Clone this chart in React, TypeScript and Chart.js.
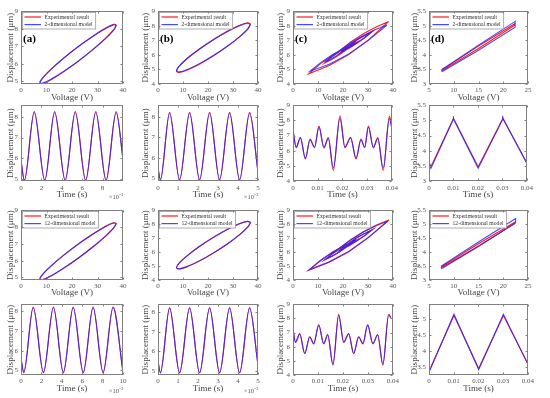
import React, { useEffect, useRef } from "react";
import { Chart, registerables } from "chart.js";
Chart.register(...registerables);

const FONT = "'Liberation Serif', 'Times New Roman', serif";
const RED = "#ff1a1a";
const BLUE = "rgba(40,40,255,0.85)";
const EXP_LABEL = "Experimental result";
const MOD2_LABEL = "2-dimensional model";
const MOD12_LABEL = "12-dimensional model";
const Y_TITLE = "Displacement (\u03bcm)";
const X_VOLT = "Voltage (V)";
const X_TIME = "Time (s)";

// ---------- (a) hysteresis loop ----------
const loopAV = [37.4, 36.26, 33.01, 28.15, 22.4, 16.65, 11.79, 8.54, 7.4, 8.54, 11.79, 16.65, 22.4, 28.15, 33.01, 36.26, 37.4];
const loopAExp = [8.22, 8.255, 8.03, 7.58, 6.98, 6.31, 5.68, 5.19, 4.9, 4.865, 5.09, 5.54, 6.14, 6.81, 7.44, 7.93, 8.22];
const loopAMod2 = [8.19, 8.22, 8.0, 7.56, 6.97, 6.32, 5.7, 5.21, 4.93, 4.9, 5.12, 5.56, 6.15, 6.81, 7.42, 7.91, 8.19];
const loopAMod12 = [8.21, 8.24, 8.02, 7.57, 6.975, 6.31, 5.69, 5.2, 4.91, 4.88, 5.1, 5.55, 6.145, 6.81, 7.43, 7.93, 8.21];

// ---------- (b) hysteresis loop ----------
const loopBV = [37.0, 35.87, 32.67, 27.86, 22.2, 16.54, 11.73, 8.53, 7.4, 8.53, 11.73, 16.54, 22.2, 27.86, 32.67, 35.87, 37.0];
const loopBExp = [8.12, 8.21, 8.04, 7.64, 7.06, 6.4, 5.75, 5.22, 4.88, 4.79, 4.96, 5.36, 5.94, 6.6, 7.25, 7.78, 8.12];
const loopBMod2 = [8.08, 8.17, 8.0, 7.6, 7.04, 6.39, 5.77, 5.25, 4.92, 4.83, 5.0, 5.4, 5.96, 6.61, 7.24, 7.75, 8.08];
const loopBMod12 = [8.11, 8.2, 8.03, 7.63, 7.055, 6.4, 5.75, 5.23, 4.89, 4.8, 4.97, 5.37, 5.945, 6.6, 7.25, 7.78, 8.11];

// ---------- (c) hysteresis loop ----------
const loopCExpV = [38.3, 33.2, 28.15, 23.1, 18.0, 19.83, 21.65, 23.48, 25.3, 22.18, 19.05, 15.93, 12.8, 15.68, 18.55, 21.43, 24.3, 23.08, 21.85, 20.63, 19.4, 22.5, 25.6, 28.7, 31.8, 28.65, 25.5, 22.35, 19.2, 20.73, 22.25, 23.78, 25.3, 20.55, 15.8, 11.05, 6.3, 14.3, 22.3, 30.3, 38.3];
const loopCExpD = [8.3, 7.92, 7.45, 6.88, 6.2, 6.33, 6.48, 6.67, 6.88, 6.6, 6.28, 5.9, 5.45, 5.7, 6.0, 6.36, 6.76, 6.64, 6.51, 6.37, 6.2, 6.46, 6.8, 7.18, 7.62, 7.34, 7.02, 6.64, 6.18, 6.32, 6.49, 6.66, 6.86, 6.47, 5.98, 5.4, 4.7, 5.25, 6.03, 7.05, 8.3];
const loopCMod2V = [37.6, 32.78, 27.95, 23.13, 18.3, 19.98, 21.65, 23.33, 25.0, 21.88, 18.75, 15.63, 12.5, 15.38, 18.25, 21.13, 24.0, 22.9, 21.8, 20.7, 19.6, 22.53, 25.45, 28.38, 31.3, 28.33, 25.35, 22.38, 19.4, 20.8, 22.2, 23.6, 25.0, 20.45, 15.9, 11.35, 6.8, 14.5, 22.2, 29.9, 37.6];
const loopCMod2D = [8.05, 7.72, 7.32, 6.83, 6.25, 6.37, 6.5, 6.66, 6.84, 6.58, 6.27, 5.91, 5.5, 5.74, 6.03, 6.35, 6.72, 6.62, 6.5, 6.38, 6.25, 6.5, 6.81, 7.16, 7.55, 7.3, 7.0, 6.65, 6.24, 6.37, 6.51, 6.66, 6.82, 6.46, 6.02, 5.5, 4.88, 5.36, 6.05, 6.96, 8.05];
const loopCMod12V = [38.0, 33.0, 28.0, 23.05, 18.1, 19.9, 21.7, 23.45, 25.2, 22.1, 19.0, 15.95, 12.9, 15.7, 18.55, 21.4, 24.2, 23.0, 21.8, 20.65, 19.5, 22.5, 25.55, 28.6, 31.6, 28.5, 25.4, 22.35, 19.3, 20.8, 22.25, 23.7, 25.2, 20.5, 15.85, 11.2, 6.6, 14.45, 22.3, 30.15, 38.0];
const loopCMod12D = [8.22, 7.87, 7.42, 6.86, 6.22, 6.35, 6.5, 6.68, 6.86, 6.59, 6.29, 5.92, 5.48, 5.72, 6.02, 6.37, 6.74, 6.63, 6.51, 6.38, 6.22, 6.48, 6.81, 7.17, 7.58, 7.32, 7.01, 6.64, 6.2, 6.33, 6.49, 6.67, 6.84, 6.48, 6.0, 5.43, 4.76, 5.3, 6.05, 7.05, 8.22];

// ---------- (d) hysteresis loop ----------
const loopDExpV = [7.7, 15, 22.3, 22.3, 15, 7.7, 7.7];
const loopDExpD = [3.46, 4.22, 5.02, 5.07, 4.3, 3.5, 3.46];
const loopDMod2V = [7.6, 15, 22.4, 22.4, 15, 7.6, 7.6];
const loopDMod2D = [3.42, 4.16, 4.95, 5.15, 4.33, 3.5, 3.42];
const loopDMod12V = [7.5, 15, 22.5, 22.5, 15, 7.5, 7.5];
const loopDMod12D = [3.4, 4.2, 5.05, 5.2, 4.36, 3.5, 3.4];

// ---------- time responses, row 2 ----------
const tA2 = [0, 0.33, 1.3, 2.33, 3.3, 4.33, 5.32, 6.34, 7.33, 8.34, 9.33, 10];
const dA2Exp = [5.9, 4.93, 8.25, 4.93, 8.25, 4.93, 8.25, 4.93, 8.25, 4.93, 8.25, 5.95];
const dA2Mod = [5.92, 4.97, 8.2, 4.97, 8.2, 4.97, 8.2, 4.97, 8.2, 4.97, 8.2, 5.97];
const tB2 = [0, 0.12, 0.58, 1.08, 1.58, 2.08, 2.58, 3.08, 3.58, 4.08, 4.58, 5];
const dB2Exp = [5.5, 4.9, 8.22, 4.9, 8.22, 4.9, 8.22, 4.9, 8.22, 4.9, 8.22, 5.3];
const dB2Mod = [5.52, 4.95, 8.17, 4.95, 8.17, 4.95, 8.17, 4.95, 8.17, 4.95, 8.17, 5.32];
const tC2 = [0, 0.0013, 0.003, 0.005, 0.0069, 0.0087, 0.0105, 0.0125, 0.0143, 0.0163, 0.019, 0.021, 0.0233, 0.0255, 0.0275, 0.029, 0.0305, 0.0325, 0.0343, 0.0365, 0.039, 0.04];
const dC2Exp = [7.37, 6.2, 6.88, 5.45, 6.76, 6.2, 7.62, 6.18, 6.86, 4.7, 8.3, 6.2, 6.88, 5.45, 6.76, 6.2, 7.62, 6.18, 6.86, 4.7, 8.28, 7.45];
const dC2Mod = [7.35, 6.24, 6.84, 5.5, 6.72, 6.24, 7.56, 6.24, 6.8, 4.85, 8.15, 6.24, 6.84, 5.5, 6.72, 6.24, 7.56, 6.24, 6.8, 4.85, 8.13, 7.45];
const tD2Exp = [0, 0.0008, 0.01, 0.0201, 0.0302, 0.04];
const dD2Exp = [3.62, 3.47, 5.06, 3.47, 5.06, 3.6];
const tD2Mod = [0, 0.0008, 0.0099, 0.0099, 0.0101, 0.0201, 0.0301, 0.0301, 0.0303, 0.04];
const dD2Mod = [3.6, 3.42, 5.03, 5.14, 5.05, 3.42, 5.03, 5.14, 5.05, 3.58];

// ---------- time responses, row 4 ----------
const tA4 = [0, 0.27, 1.2, 2.2, 3.18, 4.15, 5.12, 6.1, 7.07, 8.05, 9.03, 10];
const dA4Exp = [5.6, 4.88, 8.22, 4.88, 8.22, 4.88, 8.22, 4.88, 8.22, 4.88, 8.22, 4.9];
const dA4Mod = [5.62, 4.91, 8.19, 4.91, 8.19, 4.91, 8.19, 4.91, 8.19, 4.91, 8.19, 4.93];
const tB4 = [0, 0.12, 0.58, 1.08, 1.58, 2.08, 2.58, 3.08, 3.58, 4.08, 4.58, 5];
const dB4Exp = [5.5, 4.9, 8.22, 4.9, 8.22, 4.9, 8.22, 4.9, 8.22, 4.9, 8.22, 5.3];
const dB4Mod = [5.51, 4.92, 8.2, 4.92, 8.2, 4.92, 8.2, 4.92, 8.2, 4.92, 8.2, 5.31];
const tC4 = [0, 0.001, 0.0027, 0.0047, 0.0067, 0.0083, 0.0103, 0.0123, 0.0139, 0.016, 0.0183, 0.0203, 0.0223, 0.0243, 0.0263, 0.028, 0.0299, 0.032, 0.0339, 0.036, 0.0383, 0.0392];
const dC4Exp = [7.25, 6.3, 6.92, 5.5, 6.7, 6.2, 7.55, 6.2, 6.86, 4.7, 8.28, 6.3, 6.92, 5.5, 6.7, 6.2, 7.55, 6.2, 6.86, 4.7, 8.28, 8.05];
const dC4Mod = [7.25, 6.32, 6.9, 5.53, 6.68, 6.22, 7.52, 6.22, 6.83, 4.75, 8.22, 6.32, 6.9, 5.53, 6.68, 6.22, 7.52, 6.22, 6.83, 4.75, 8.22, 8.05];
const tD4 = [0, 0.0005, 0.0101, 0.0201, 0.0301, 0.04];
const dD4Exp = [3.55, 3.45, 5.1, 3.45, 5.1, 3.6];
const dD4Mod = [3.54, 3.42, 5.14, 3.42, 5.14, 3.58];

// ---------- ticks ----------
const ticksV40 = [0, 10, 20, 30, 40];
const ticksV25 = [5, 10, 15, 20, 25];
const ticksY59 = [5, 6, 7, 8, 9];
const ticksY49 = [4, 5, 6, 7, 8, 9];
const ticksY58 = [5, 6, 7, 8];
const ticksY355 = [3, 3.5, 4, 4.5, 5, 5.5];
const ticksY350 = [3.5, 4, 4.5, 5];
const ticksT8 = [0, 2, 4, 6, 8];
const ticksT10 = [0, 2, 4, 6, 8, 10];
const ticksT5 = [0, 1, 2, 3, 4, 5];
const ticksT04 = [0, 0.01, 0.02, 0.03, 0.04];

// ---------- layout ----------
const COLS: [number, number][] = [[21, 123], [158, 258], [293, 393], [429, 528]];
const ROWS: [number, number][] = [[10, 84], [104, 181], [209, 280], [303, 375]];
const TICK_PAD = [2, 3, 1.5, 2];
const XTITLE_OFF = [13.7, 13.3, 12.7, 13.3];
const YTITLE_OFF = [10.7, 12.7, 12.7, 14.3];
const PAD_T = 6, PAD_R = 8, PAD_B = 20;

type Series = { label: string; xs: number[]; ys: number[]; color: string };
type PanelCfg = {
  row: number; col: number;
  xr: [number, number]; yr: [number, number];
  xt: number[]; yt: number[];
  xTitle: string;
  mode: "smooth" | "poly" | "mono";
  series: Series[];
  legend?: boolean; tag?: string; expo?: boolean;
};

const exp = (xs: number[], ys: number[]): Series => ({ label: EXP_LABEL, xs, ys, color: RED });
const m2 = (xs: number[], ys: number[]): Series => ({ label: MOD2_LABEL, xs, ys, color: BLUE });
const m12 = (xs: number[], ys: number[]): Series => ({ label: MOD12_LABEL, xs, ys, color: BLUE });

const PANELS: PanelCfg[] = [
  { row: 0, col: 0, xr: [0, 40], yr: [4.85, 9], xt: ticksV40, yt: ticksY59, xTitle: X_VOLT, mode: "smooth", legend: true, tag: "(a)", series: [exp(loopAV, loopAExp), m2(loopAV, loopAMod2)] },
  { row: 0, col: 1, xr: [0, 40], yr: [4, 9], xt: ticksV40, yt: ticksY49, xTitle: X_VOLT, mode: "smooth", legend: true, tag: "(b)", series: [exp(loopBV, loopBExp), m2(loopBV, loopBMod2)] },
  { row: 0, col: 2, xr: [0, 40], yr: [4, 9], xt: ticksV40, yt: ticksY49, xTitle: X_VOLT, mode: "poly", legend: true, tag: "(c)", series: [exp(loopCExpV, loopCExpD), m2(loopCMod2V, loopCMod2D)] },
  { row: 0, col: 3, xr: [5, 25], yr: [3, 5.5], xt: ticksV25, yt: ticksY355, xTitle: X_VOLT, mode: "poly", legend: true, tag: "(d)", series: [exp(loopDExpV, loopDExpD), m2(loopDMod2V, loopDMod2D)] },

  { row: 1, col: 0, xr: [0, 10], yr: [4.92, 8.55], xt: ticksT8, yt: ticksY58, xTitle: X_TIME, mode: "mono", expo: true, series: [exp(tA2, dA2Exp), m2(tA2, dA2Mod)] },
  { row: 1, col: 1, xr: [0, 5], yr: [4.87, 8.56], xt: ticksT5, yt: ticksY58, xTitle: X_TIME, mode: "mono", expo: true, series: [exp(tB2, dB2Exp), m2(tB2, dB2Mod)] },
  { row: 1, col: 2, xr: [0, 0.04], yr: [4, 9], xt: ticksT04, yt: ticksY49, xTitle: X_TIME, mode: "mono", series: [exp(tC2, dC2Exp), m2(tC2, dC2Mod)] },
  { row: 1, col: 3, xr: [0, 0.04], yr: [3, 5.5], xt: ticksT04, yt: ticksY355, xTitle: X_TIME, mode: "poly", series: [exp(tD2Exp, dD2Exp), m2(tD2Mod, dD2Mod)] },

  { row: 2, col: 0, xr: [0, 40], yr: [4.85, 9], xt: ticksV40, yt: ticksY59, xTitle: X_VOLT, mode: "smooth", legend: true, series: [exp(loopAV, loopAExp), m12(loopAV, loopAMod12)] },
  { row: 2, col: 1, xr: [0, 40], yr: [4, 9], xt: ticksV40, yt: ticksY49, xTitle: X_VOLT, mode: "smooth", legend: true, series: [exp(loopBV, loopBExp), m12(loopBV, loopBMod12)] },
  { row: 2, col: 2, xr: [0, 40], yr: [4, 9], xt: ticksV40, yt: ticksY49, xTitle: X_VOLT, mode: "poly", legend: true, series: [exp(loopCExpV, loopCExpD), m12(loopCMod12V, loopCMod12D)] },
  { row: 2, col: 3, xr: [5, 25], yr: [3, 5.5], xt: ticksV25, yt: ticksY355, xTitle: X_VOLT, mode: "poly", legend: true, series: [exp(loopDExpV, loopDExpD), m12(loopDMod12V, loopDMod12D)] },

  { row: 3, col: 0, xr: [0, 10], yr: [4.77, 8.36], xt: ticksT10, yt: ticksY58, xTitle: X_TIME, mode: "mono", expo: true, series: [exp(tA4, dA4Exp), m12(tA4, dA4Mod)] },
  { row: 3, col: 1, xr: [0, 5], yr: [4.8, 8.4], xt: ticksT5, yt: ticksY58, xTitle: X_TIME, mode: "mono", expo: true, series: [exp(tB4, dB4Exp), m12(tB4, dB4Mod)] },
  { row: 3, col: 2, xr: [0, 0.04], yr: [4, 9], xt: ticksT04, yt: ticksY49, xTitle: X_TIME, mode: "mono", series: [exp(tC4, dC4Exp), m12(tC4, dC4Mod)] },
  { row: 3, col: 3, xr: [0, 0.04], yr: [3.25, 5.45], xt: ticksT04, yt: ticksY350, xTitle: X_TIME, mode: "poly", series: [exp(tD4, dD4Exp), m12(tD4, dD4Mod)] },
];

function makeDecor(cfg: PanelCfg) {
  return {
    id: "decor",
    afterDatasetsDraw(chart: any) {
      const { ctx, chartArea: a } = chart;
      ctx.save();
      const l = Math.round(a.left) + 0.5, t = Math.round(a.top) + 0.5;
      const r = Math.round(a.right) - 0.5, b = Math.round(a.bottom) - 0.5;
      // legend
      if (cfg.legend) {
        ctx.font = `5.7px ${FONT}`;
        const tw = Math.max(...cfg.series.map((s) => ctx.measureText(s.label).width));
        const bx = Math.round(a.left) + 1.5, by = Math.round(a.top) + 1.5;
        const bw = 22 + tw + 3, bh = 16.5;
        ctx.fillStyle = "#ffffff";
        ctx.fillRect(bx, by, bw, bh);
        ctx.strokeStyle = "#9a9a9a";
        ctx.lineWidth = 0.8;
        ctx.strokeRect(bx, by, bw, bh);
        cfg.series.forEach((s, i) => {
          const cy = by + 4.5 + i * 7.6;
          ctx.strokeStyle = s.color;
          ctx.lineWidth = 1.2;
          ctx.beginPath();
          ctx.moveTo(bx + 2, cy);
          ctx.lineTo(bx + 18.5, cy);
          ctx.stroke();
          ctx.fillStyle = "#333";
          ctx.textBaseline = "middle";
          ctx.textAlign = "left";
          ctx.fillText(s.label, bx + 22, cy + 0.3);
        });
      }
      // frame
      ctx.strokeStyle = "#808080";
      ctx.lineWidth = 1;
      ctx.strokeRect(l, t, r - l, b - t);
      ctx.beginPath();
      const sx = chart.scales.x, sy = chart.scales.y;
      for (const tk of sx.ticks) {
        const px = Math.round(sx.getPixelForValue(tk.value)) + 0.5;
        ctx.moveTo(px, b); ctx.lineTo(px, b - 2);
        ctx.moveTo(px, t); ctx.lineTo(px, t + 2);
      }
      for (const tk of sy.ticks) {
        const py = Math.round(sy.getPixelForValue(tk.value)) + 0.5;
        ctx.moveTo(l, py); ctx.lineTo(l + 2, py);
        ctx.moveTo(r, py); ctx.lineTo(r - 2, py);
      }
      ctx.stroke();
      // panel tag
      if (cfg.tag) {
        ctx.font = `bold 11px ${FONT}`;
        ctx.fillStyle = "#000";
        ctx.textAlign = "left";
        ctx.textBaseline = "middle";
        ctx.fillText(cfg.tag, a.left + 2, a.top + 28);
      }
      // exponent
      if (cfg.expo) {
        ctx.fillStyle = "#555";
        ctx.textAlign = "left";
        ctx.textBaseline = "alphabetic";
        ctx.font = `6.5px ${FONT}`;
        const base = "\u00d710";
        const w1 = ctx.measureText(base).width;
        ctx.font = `4.8px ${FONT}`;
        const w2 = ctx.measureText("-3").width;
        const x0 = a.right - w1 - w2;
        ctx.font = `6.5px ${FONT}`;
        ctx.fillText(base, x0, a.bottom + 18);
        ctx.font = `4.8px ${FONT}`;
        ctx.fillText("-3", x0 + w1 + 0.3, a.bottom + 15);
      }
      ctx.restore();
    },
  };
}

function Panel({ cfg }: { cfg: PanelCfg }) {
  const ref = useRef<HTMLCanvasElement>(null);
  const [x1, x2] = COLS[cfg.col];
  const [y1, y2] = ROWS[cfg.row];
  const L = cfg.col === 0 ? 21 : 24;
  const W = x2 - x1 + L + PAD_R;
  const H = y2 - y1 + PAD_T + PAD_B;

  useEffect(() => {
    const tickFont = { family: FONT, size: 7 };
    const titleFont = { family: FONT, size: 9 };
    const datasets = cfg.series.map((s, i) => ({
      label: s.label,
      data: s.xs.map((x, k) => ({ x, y: s.ys[k] })),
      borderColor: s.color,
      borderWidth: 1.1,
      pointRadius: 0,
      fill: false,
      order: cfg.series.length - i,
      tension: cfg.mode === "smooth" ? 0.35 : 0,
      cubicInterpolationMode: cfg.mode === "mono" ? "monotone" : "default",
    }));
    const chart = new Chart(ref.current as HTMLCanvasElement, {
      type: "line",
      data: { datasets } as any,
      options: {
        responsive: false,
        animation: false,
        events: [],
        layout: { padding: { top: PAD_T, right: PAD_R, left: 0, bottom: 0 } },
        plugins: { legend: { display: false }, tooltip: { enabled: false } },
        scales: {
          x: {
            type: "linear",
            min: cfg.xr[0],
            max: cfg.xr[1],
            grid: { display: false, drawTicks: false },
            border: { display: false },
            ticks: {
              font: tickFont, color: "#555", padding: TICK_PAD[cfg.row],
              maxRotation: 0, autoSkip: false,
              callback: (v: any) => String(v),
            },
            afterBuildTicks: (s: any) => { s.ticks = cfg.xt.map((v) => ({ value: v })); },
            afterFit: (s: any) => { s.height = PAD_B; },
            title: {
              display: true, text: cfg.xTitle, font: titleFont, color: "#444",
              padding: { top: 0, bottom: PAD_B - XTITLE_OFF[cfg.row] - 5.4 },
            },
          },
          y: {
            type: "linear",
            min: cfg.yr[0],
            max: cfg.yr[1],
            grid: { display: false, drawTicks: false },
            border: { display: false },
            ticks: {
              font: tickFont, color: "#555", padding: 3, autoSkip: false,
              callback: (v: any) => String(v),
            },
            afterBuildTicks: (s: any) => { s.ticks = cfg.yt.map((v) => ({ value: v })); },
            afterFit: (s: any) => { s.width = L; },
            title: {
              display: true, text: Y_TITLE, font: titleFont, color: "#444",
              padding: { top: L - YTITLE_OFF[cfg.col] - 5.4, bottom: 0 },
            },
          },
        },
      } as any,
      plugins: [makeDecor(cfg)],
    });
    return () => chart.destroy();
  }, []);

  return (
    <canvas
      ref={ref}
      width={W}
      height={H}
      style={{ position: "absolute", left: x1 - L, top: y1 - PAD_T, width: W, height: H }}
    />
  );
}

export default function App() {
  return (
    <div style={{ position: "absolute", left: 0, top: 0, width: 550, height: 398, background: "#fff", overflow: "hidden" }}>
      {PANELS.map((p, i) => (
        <Panel key={i} cfg={p} />
      ))}
    </div>
  );
}
